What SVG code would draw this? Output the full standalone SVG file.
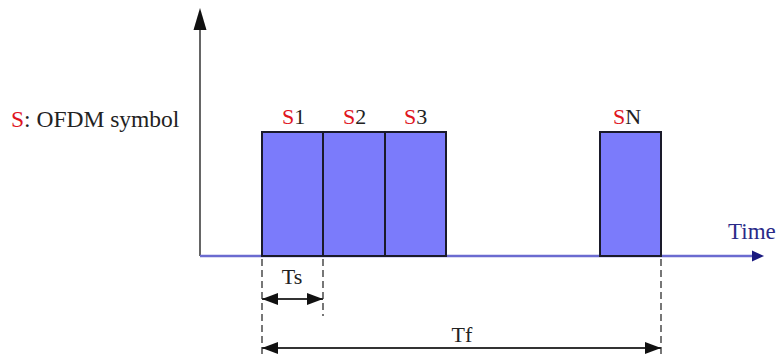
<svg xmlns="http://www.w3.org/2000/svg" width="781" height="358" viewBox="0 0 781 358">
<style>
.t{font-family:'Liberation Serif','DejaVu Serif','Times New Roman',serif;font-size:22px;fill:#222}
.r{fill:#e0141e}
.box{fill:#7b7bfb;stroke:#1a1a2a;stroke-width:2}
.dash{stroke:#555;stroke-width:1.6;stroke-dasharray:7 4;fill:none}
.dim{stroke:#333;stroke-width:2;fill:none}
</style>
<defs>
<marker id="ah" markerWidth="16" markerHeight="12" refX="16" refY="6" orient="auto-start-reverse" markerUnits="userSpaceOnUse">
<path d="M0,0 L16,6 L0,12 Z" fill="#111"/>
</marker>
</defs>
<rect width="781" height="358" fill="#fff"/>
<g id="axes">
<line x1="200" y1="256" x2="200" y2="28" stroke="#555" stroke-width="1.8"/>
<path d="M200,8 L206.5,30 L193.5,30 Z" fill="#111"/>
<line x1="200" y1="256" x2="754" y2="256" stroke="#6b6bd0" stroke-width="2.5"/>
<path d="M764,256 L752,250.5 L752,261.5 Z" fill="#1a1a80"/>
<text class="t" x="728" y="239" style="fill:#2a2a88;font-size:23px">Time</text>
</g>
<g id="legend">
<text class="t r" x="11" y="127" style="font-size:23.5px">S</text>
<text class="t" x="24" y="127" style="font-size:23.5px">: OFDM symbol</text>
</g>
<g id="s1"><rect class="box" x="262" y="132" width="61" height="124"/><text class="t r" x="282" y="124">S</text><text class="t" x="294.2" y="124">1</text></g>
<g id="s2"><rect class="box" x="323" y="132" width="62" height="124"/><text class="t r" x="343" y="124">S</text><text class="t" x="355.2" y="124">2</text></g>
<g id="s3"><rect class="box" x="385" y="132" width="61" height="124"/><text class="t r" x="404" y="124">S</text><text class="t" x="416.2" y="124">3</text></g>
<g id="sn"><rect class="box" x="600" y="132" width="61" height="124"/><text class="t r" x="613" y="124">S</text><text class="t" x="625.2" y="124">N</text></g>
<g id="connectors">
<line class="dash" x1="262" y1="259" x2="262" y2="358"/>
<line class="dash" x1="323" y1="259" x2="323" y2="316"/>
<line class="dash" x1="661" y1="259" x2="661" y2="358"/>
<line class="dim" x1="262" y1="299" x2="323" y2="299" marker-start="url(#ah)" marker-end="url(#ah)"/>
<line class="dim" x1="262" y1="348" x2="661" y2="348" marker-start="url(#ah)" marker-end="url(#ah)"/>
</g>
<g id="labels">
<text class="t" x="292" y="284" text-anchor="middle">Ts</text>
<text class="t" x="462" y="342" text-anchor="middle">Tf</text>
</g>
</svg>
